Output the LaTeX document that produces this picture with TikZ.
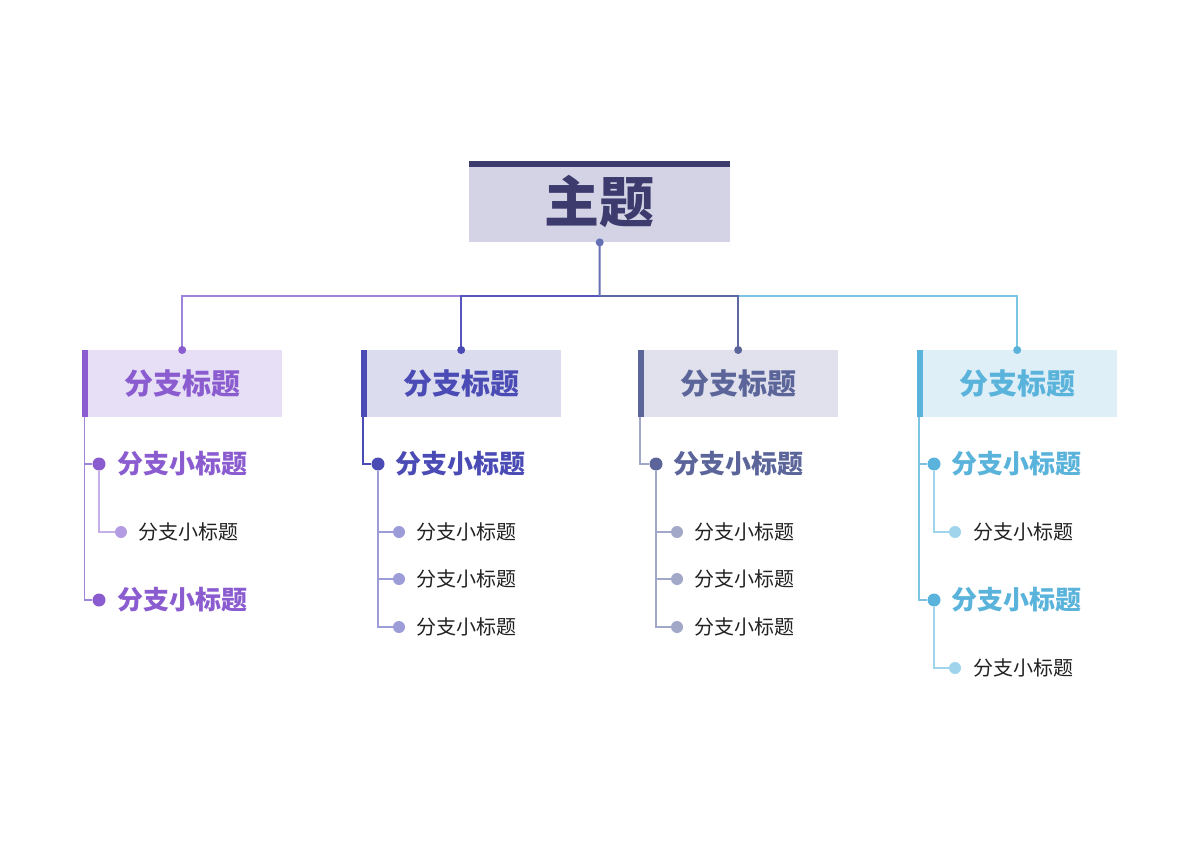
\documentclass[tikz,border=0pt]{standalone}
\usepackage{fontspec}
\newfontfamily\cjk{Noto Sans CJK SC}
\definecolor{rootc}{HTML}{3D3A6E}
\definecolor{rootf}{HTML}{D3D3E5}
\definecolor{hubc}{HTML}{6670B5}
\definecolor{ca}{HTML}{8A5CD0}\definecolor{fa}{HTML}{E6DFF5}\definecolor{la}{HTML}{B49CE3}\definecolor{ka}{HTML}{9F85DA}
\definecolor{cb}{HTML}{4B4BB5}\definecolor{fb}{HTML}{DCDCEF}\definecolor{lb}{HTML}{9C9CD8}\definecolor{kb}{HTML}{5555BD}
\definecolor{cc}{HTML}{5B6599}\definecolor{fc}{HTML}{E0E1ED}\definecolor{lc}{HTML}{A2A9C8}\definecolor{kc}{HTML}{5E68A2}
\definecolor{cd}{HTML}{5AB3DB}\definecolor{fd}{HTML}{DFEFF7}\definecolor{ld}{HTML}{A0D4EC}\definecolor{kd}{HTML}{7CC4E4}
\definecolor{txt}{HTML}{222222}
\tikzset{
  branchbox/.style={rectangle, inner sep=0, minimum width=200pt, minimum height=67pt, anchor=north west, font=\cjk\bfseries\fontsize{29}{31}\selectfont},
  topdot/.style={circle, inner sep=0, minimum size=8pt},
  middot/.style={circle, inner sep=0, minimum size=13pt},
  lowdot/.style={circle, inner sep=0, minimum size=12pt},
  boldlab/.style={anchor=west, inner sep=0, font=\cjk\bfseries\fontsize{26}{28}\selectfont},
  thinlab/.style={anchor=west, inner sep=0, text=txt, font=\cjk\fontsize{20}{22}\selectfont},
  conn/.style={line width=1.5pt},
  spine/.style={line width=1.2pt}
}
\begin{document}
\begin{tikzpicture}[x=1pt,y=-1pt]
\useasboundingbox (0,0) rectangle (1200,848);
\fill[white] (0,0) rectangle (1200,848);
% root
\node[rectangle, fill=rootf, inner sep=0, minimum width=261pt, minimum height=81pt, anchor=north west,
      text=rootc, font=\cjk\bfseries\fontsize{55}{58}\selectfont] (root) at (469,161) {\raisebox{-2pt}{主题}};
\fill[rootc] (root.north west) rectangle ([yshift=-6pt]root.north east);
\coordinate (hub) at (599.5,296);
% branch boxes
\node[branchbox, fill=fa, text=ca] (b1) at (82,350) {分支标题};
\node[branchbox, fill=fb, text=cb] (b2) at (361,350) {分支标题};
\node[branchbox, fill=fc, text=cc] (b3) at (638,350) {分支标题};
\node[branchbox, fill=fd, text=cd] (b4) at (917,350) {分支标题};
\fill[ca] (b1.north west) rectangle ([xshift=6pt]b1.south west);
\fill[cb] (b2.north west) rectangle ([xshift=6pt]b2.south west);
\fill[cc] (b3.north west) rectangle ([xshift=6pt]b3.south west);
\fill[cd] (b4.north west) rectangle ([xshift=6pt]b4.south west);
% connectors root to branches
\draw[conn, ka] (hub) -| (b1.north);
\draw[conn, kd] (hub) -| (b4.north);
\draw[conn, kb] (hub) -| (b2.north);
\draw[conn, kc] (hub) -| (b3.north);
\draw[line width=2pt, hubc] (root.south) -- (hub);
\node[topdot, fill=hubc] (rd) at (root.south) {};
\node[topdot, fill=ca] (bd1) at (b1.north) {};
\node[topdot, fill=cb] (bd2) at (b2.north) {};
\node[topdot, fill=cc] (bd3) at (b3.north) {};
\node[topdot, fill=cd] (bd4) at (b4.north) {};
% ---------- branch 1
\node[middot, fill=ca] (d11) at (99,464) {};
\node[middot, fill=ca] (d12) at (99,600) {};
\node[lowdot, fill=la] (d111) at (121,532) {};
\draw[spine, ka] ([xshift=2.5pt]b1.south west) |- (d11.west);
\draw[spine, ka] ([xshift=2.5pt]b1.south west) |- (d12.west);
\draw[spine, la!80] (d11.south) |- (d111.west);
\node[boldlab, text=ca] (t11) at (117,464) {分支小标题};
\node[boldlab, text=ca] (t12) at (117,600) {分支小标题};
\node[thinlab] (t111) at (138.5,532) {分支小标题};
% ---------- branch 2
\node[middot, fill=cb] (d21) at (378,464) {};
\node[lowdot, fill=lb] (d211) at (399,532) {};
\node[lowdot, fill=lb] (d212) at (399,579) {};
\node[lowdot, fill=lb] (d213) at (399,627) {};
\draw[spine, cb] ([xshift=2pt]b2.south west) |- (d21.west);
\draw[spine, lb] (d21.south) |- (d211.west);
\draw[spine, lb] (d21.south) |- (d212.west);
\draw[spine, lb] (d21.south) |- (d213.west);
\node[boldlab, text=cb] (t21) at (395,464) {分支小标题};
\node[thinlab] (t211) at (416.5,532) {分支小标题};
\node[thinlab] (t212) at (416.5,579) {分支小标题};
\node[thinlab] (t213) at (416.5,627) {分支小标题};
% ---------- branch 3
\node[middot, fill=cc] (d31) at (656,464) {};
\node[lowdot, fill=lc] (d311) at (677,532) {};
\node[lowdot, fill=lc] (d312) at (677,579) {};
\node[lowdot, fill=lc] (d313) at (677,627) {};
\draw[spine, lc] ([xshift=2pt]b3.south west) |- (d31.west);
\draw[spine, lc] (d31.south) |- (d311.west);
\draw[spine, lc] (d31.south) |- (d312.west);
\draw[spine, lc] (d31.south) |- (d313.west);
\node[boldlab, text=cc] (t31) at (673,464) {分支小标题};
\node[thinlab] (t311) at (694.5,532) {分支小标题};
\node[thinlab] (t312) at (694.5,579) {分支小标题};
\node[thinlab] (t313) at (694.5,627) {分支小标题};
% ---------- branch 4
\node[middot, fill=cd] (d41) at (934,464) {};
\node[middot, fill=cd] (d42) at (934,600) {};
\node[lowdot, fill=ld] (d411) at (955,532) {};
\node[lowdot, fill=ld] (d421) at (955,668) {};
\draw[spine, kd] ([xshift=2pt]b4.south west) |- (d41.west);
\draw[spine, kd] ([xshift=2pt]b4.south west) |- (d42.west);
\draw[spine, ld] (d41.south) |- (d411.west);
\draw[spine, ld] (d42.south) |- (d421.west);
\node[boldlab, text=cd] (t41) at (951,464) {分支小标题};
\node[boldlab, text=cd] (t42) at (951,600) {分支小标题};
\node[thinlab] (t411) at (973.5,532) {分支小标题};
\node[thinlab] (t421) at (973.5,668) {分支小标题};
\end{tikzpicture}
\end{document}
